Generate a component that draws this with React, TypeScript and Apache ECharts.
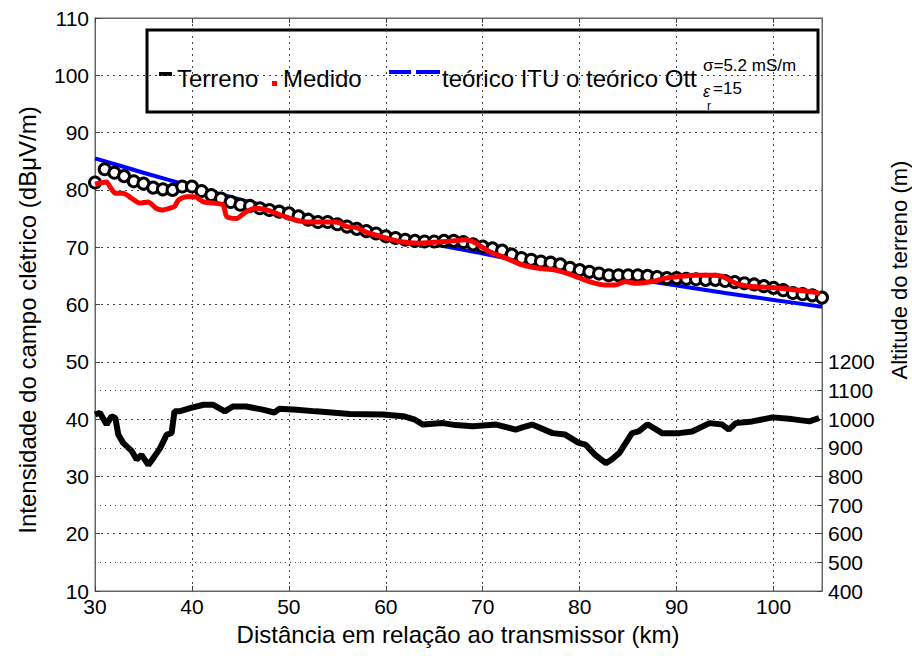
import React, { useEffect, useRef } from "react";
import * as echarts from "echarts";

// ---- Data ----
const xTickValues = [30, 40, 50, 60, 70, 80, 90, 100];
const leftTickValues = [10, 20, 30, 40, 50, 60, 70, 80, 90, 100, 110];
const rightTickValues = [400, 500, 600, 700, 800, 900, 1000, 1100, 1200];

// Terreno (altitude, m) – right axis
const terrainKm = [30, 30.5, 31.2, 31.7, 32.1, 32.4, 32.9, 33.8, 34.3, 34.8, 35.5, 36.0, 36.7, 37.4, 37.9, 38.2, 38.7, 39.8, 41.2, 42.2, 43.4, 44.2, 45.6, 47.3, 48.5, 49.0, 50.8, 52.8, 56.3, 59.7, 61.8, 63.0, 63.8, 65.9, 67.2, 69.0, 71.4, 73.4, 74.1, 75.1, 77.2, 78.5, 79.9, 80.6, 81.6, 82.7, 83.3, 84.1, 85.4, 86.1, 87.0, 88.5, 90.3, 91.6, 93.4, 94.7, 95.4, 96.1, 97.8, 99.9, 101.9, 103.7, 104.7];
const terrainAlt = [1016, 1022, 981, 1010, 1004, 946, 917, 888, 859, 875, 840, 863, 898, 946, 951, 1027, 1027, 1038, 1050, 1050, 1027, 1044, 1044, 1033, 1023, 1036, 1033, 1027, 1018, 1016, 1010, 998, 981, 986, 979, 975, 981, 963, 971, 981, 951, 946, 917, 911, 875, 846, 859, 882, 951, 957, 982, 951, 951, 957, 986, 981, 963, 986, 992, 1006, 1000, 992, 1004];

// Medido (dBµV/m)
const medidoKm = [30, 30.5, 31.2, 31.6, 32.1, 32.9, 33.4, 33.8, 34.6, 35.5, 36.3, 36.9, 37.7, 38.2, 38.6, 39.4, 40.3, 41.2, 42.2, 43.2, 43.6, 44.6, 45.6, 46.7, 47.7, 48.7, 49.7, 50.8, 51.8, 52.8, 53.9, 54.9, 56.0, 57.0, 58.0, 59.0, 60.0, 61.4, 63.5, 66.2, 68.3, 69.3, 70.7, 72.4, 74.1, 75.8, 77.5, 79.3, 81.0, 82.7, 83.7, 84.7, 85.8, 87.5, 88.9, 90.3, 92.0, 93.7, 94.7, 96.1, 97.5, 99.2, 100.9, 102.6, 104.0, 104.8];
const medidoVal = [81.0, 81.2, 81.4, 80.4, 79.4, 79.4, 79.0, 78.5, 77.7, 77.9, 76.8, 76.5, 76.8, 77.1, 78.2, 78.8, 78.8, 77.9, 77.7, 77.4, 75.3, 75.0, 76.2, 76.8, 76.5, 75.9, 75.3, 74.7, 74.4, 74.4, 74.4, 74.4, 73.6, 73.4, 72.6, 72.1, 71.6, 71.0, 70.7, 71.0, 71.3, 70.7, 69.2, 68.1, 66.9, 66.3, 66.0, 65.1, 64.0, 63.4, 63.4, 64.0, 63.7, 64.0, 64.6, 64.9, 65.1, 65.1, 64.9, 63.7, 63.2, 63.0, 62.8, 62.5, 62.2, 61.9];

// teórico ITU
const ituKm = [30, 35, 40, 45, 50, 55, 60, 65, 70, 75, 80, 85, 90, 95, 100, 105];
const ituVal = [85.5, 83.0, 80.6, 78.3, 76.2, 74.2, 72.3, 70.5, 68.9, 67.3, 65.9, 64.6, 63.3, 62.0, 60.8, 59.6];

// teórico Ott (σ=5.2 mS/m, εr=15)
const ottKm = [30, 31, 32, 33, 34, 35, 36, 37, 38, 39, 40, 41, 42, 43, 44, 45, 46, 47, 48, 49, 50, 51, 52, 53, 54, 55, 56, 57, 58, 59, 60, 61, 62, 63, 64, 65, 66, 67, 68, 69, 70, 71, 72, 73, 74, 75, 76, 77, 78, 79, 80, 81, 82, 83, 84, 85, 86, 87, 88, 89, 90, 91, 92, 93, 94, 95, 96, 97, 98, 99, 100, 101, 102, 103, 104, 105];
const ottVal = [81.3, 83.6, 83.0, 82.4, 81.5, 81.1, 80.4, 80.1, 80.0, 80.6, 80.6, 79.8, 79.1, 78.5, 77.9, 77.4, 77.2, 76.8, 76.5, 76.2, 75.9, 75.4, 74.8, 74.4, 74.4, 74.0, 73.6, 73.2, 72.8, 72.4, 71.9, 71.6, 71.3, 71.1, 71.0, 71.0, 71.1, 71.1, 70.9, 70.5, 70.1, 69.8, 69.4, 68.7, 68.1, 67.8, 67.5, 67.3, 67.0, 66.4, 66.0, 65.7, 65.4, 65.1, 65.1, 65.1, 65.1, 65.0, 64.8, 64.6, 64.6, 64.5, 64.4, 64.3, 64.3, 64.1, 63.9, 63.7, 63.5, 63.2, 62.9, 62.5, 62.0, 61.8, 61.6, 61.2];

const rightExtraGrid = [500, 700, 900, 1100];

const FONT = "'Liberation Sans', Arial, sans-serif";

const zip = (a: number[], b: number[]) => a.map((v, i) => [v, b[i]]);

export default function App() {
  const ref = useRef<HTMLDivElement>(null);
  useEffect(() => {
    if (!ref.current) return;
    const chart = echarts.init(ref.current, undefined, { renderer: "svg" });
    const gridStyle = { color: "#444", width: 1, type: [2, 4] as any };
    const option: any = {
      animation: false,
      backgroundColor: "#fff",
      textStyle: { fontFamily: FONT },
      grid: { left: 95, right: 90, top: 18, bottom: 65, show: true, borderColor: "#666", borderWidth: 1, backgroundColor: "transparent" },
      xAxis: [
        {
          type: "value", min: 30, max: 105, interval: 10, position: "bottom",
          axisLine: { show: true, onZero: false, lineStyle: { color: "#666" } },
          axisTick: { show: true, inside: true, length: 5, lineStyle: { color: "#444" }, customValues: xTickValues },
          axisLabel: { show: true, color: "#000", fontSize: 21, fontFamily: FONT, margin: 5, customValues: xTickValues },
          splitLine: { show: true, lineStyle: gridStyle },
        },
        {
          type: "value", min: 30, max: 105, interval: 10, position: "top",
          axisLine: { show: true, onZero: false, lineStyle: { color: "#666" } },
          axisTick: { show: true, inside: true, length: 5, lineStyle: { color: "#444" }, customValues: xTickValues },
          axisLabel: { show: false },
          splitLine: { show: false },
        },
      ],
      yAxis: [
        {
          type: "value", min: 10, max: 110, interval: 10, position: "left",
          axisLine: { show: true, onZero: false, lineStyle: { color: "#666" } },
          axisTick: { show: true, inside: true, length: 5, lineStyle: { color: "#444" } },
          axisLabel: { color: "#000", fontSize: 21, fontFamily: FONT, margin: 6, customValues: leftTickValues },
          splitLine: { show: true, lineStyle: gridStyle },
        },
        {
          type: "value", min: 400, max: 2400, interval: 100, position: "right",
          axisLine: { show: true, onZero: false, lineStyle: { color: "#666" } },
          axisTick: { show: true, inside: true, length: 5, lineStyle: { color: "#444" }, customValues: rightTickValues },
          axisLabel: {
            color: "#000", fontSize: 21, fontFamily: FONT, margin: 6, customValues: rightTickValues,
            formatter: (v: number) => (v <= 1200 ? String(v) : ""),
          },
          splitLine: { show: false },
        },
      ],
      series: [
        {
          name: "Terreno", type: "line", xAxisIndex: 0, yAxisIndex: 1,
          data: zip(terrainKm, terrainAlt), showSymbol: false, symbol: "none",
          lineStyle: { color: "#000", width: 6 }, z: 2,
          markLine: {
            silent: true, symbol: "none", label: { show: false },
            lineStyle: { color: "#444", width: 1, type: [1, 4] },
            data: rightExtraGrid.map((v) => ({ yAxis: v })),
          },
        },
        {
          name: "teórico ITU", type: "line", xAxisIndex: 0, yAxisIndex: 0,
          data: zip(ituKm, ituVal), showSymbol: false, symbol: "none", smooth: 0.3,
          lineStyle: { color: "#0000ff", width: 4 }, z: 3,
        },
        {
          name: "teórico Ott", type: "line", xAxisIndex: 0, yAxisIndex: 0,
          data: zip(ottKm, ottVal), symbol: "circle", symbolSize: 11, showSymbol: true,
          lineStyle: { width: 0, opacity: 0 },
          itemStyle: { color: "#fff", borderColor: "#000", borderWidth: 3 }, z: 4,
        },
        {
          name: "Medido", type: "line", xAxisIndex: 0, yAxisIndex: 0,
          data: zip(medidoKm, medidoVal), showSymbol: false, symbol: "none", smooth: 0.2,
          lineStyle: { color: "#ff0000", width: 5 }, z: 5,
        },
      ],
      graphic: [
        // axis titles
        { type: "text", x: 27, y: 320, rotation: Math.PI / 2, style: { text: "Intensidade do campo clétrico (dBμV/m)", fill: "#000", font: `24px ${FONT}`, align: "center", verticalAlign: "middle" } },
        { type: "text", x: 899, y: 270, rotation: Math.PI / 2, style: { text: "Altitude do terreno (m)", fill: "#000", font: `22px ${FONT}`, align: "center", verticalAlign: "middle" } },
        { type: "text", x: 458, y: 634, style: { text: "Distância em relação ao transmissor (km)", fill: "#000", font: `24px ${FONT}`, align: "center", verticalAlign: "middle" } },
        // legend
        {
          type: "group", z: 100,
          children: [
            { type: "rect", shape: { x: 147, y: 30, width: 671, height: 82 }, style: { fill: "#fff", stroke: "#000", lineWidth: 3 } },
            { type: "line", shape: { x1: 159, y1: 74, x2: 172, y2: 74 }, style: { stroke: "#000", lineWidth: 4 } },
            { type: "text", x: 177, y: 78, style: { text: "Terreno", fill: "#000", font: `24px ${FONT}`, verticalAlign: "middle" } },
            { type: "rect", shape: { x: 272, y: 81, width: 5, height: 5 }, style: { fill: "#ff0000" } },
            { type: "text", x: 283, y: 78, style: { text: "Medido", fill: "#000", font: `24px ${FONT}`, verticalAlign: "middle" } },
            { type: "line", shape: { x1: 389, y1: 72, x2: 411, y2: 72 }, style: { stroke: "#0000ff", lineWidth: 4 } },
            { type: "line", shape: { x1: 416, y1: 72, x2: 440, y2: 72 }, style: { stroke: "#0000ff", lineWidth: 4 } },
            { type: "text", x: 442, y: 78, style: { text: "teórico ITU", fill: "#000", font: `24px ${FONT}`, verticalAlign: "middle" } },
            { type: "text", x: 566, y: 78, style: { text: "o teórico Ott", fill: "#000", font: `24px ${FONT}`, verticalAlign: "middle" } },
            { type: "text", x: 703, y: 65, style: { text: "σ=5.2 mS/m", fill: "#000", font: `17px ${FONT}`, verticalAlign: "middle" } },
            { type: "text", x: 703, y: 91, style: { text: "ε", fill: "#000", font: `italic 16px ${FONT}`, verticalAlign: "middle" } },
            { type: "text", x: 707, y: 106, style: { text: "r", fill: "#000", font: `12px ${FONT}`, verticalAlign: "middle" } },
            { type: "text", x: 713, y: 88, style: { text: "=15", fill: "#000", font: `17px ${FONT}`, verticalAlign: "middle" } },
          ],
        },
      ],
    };
    chart.setOption(option);
    return () => chart.dispose();
  }, []);
  return <div ref={ref} style={{ position: "absolute", left: 0, top: 0, width: 912, height: 656 }} />;
}
